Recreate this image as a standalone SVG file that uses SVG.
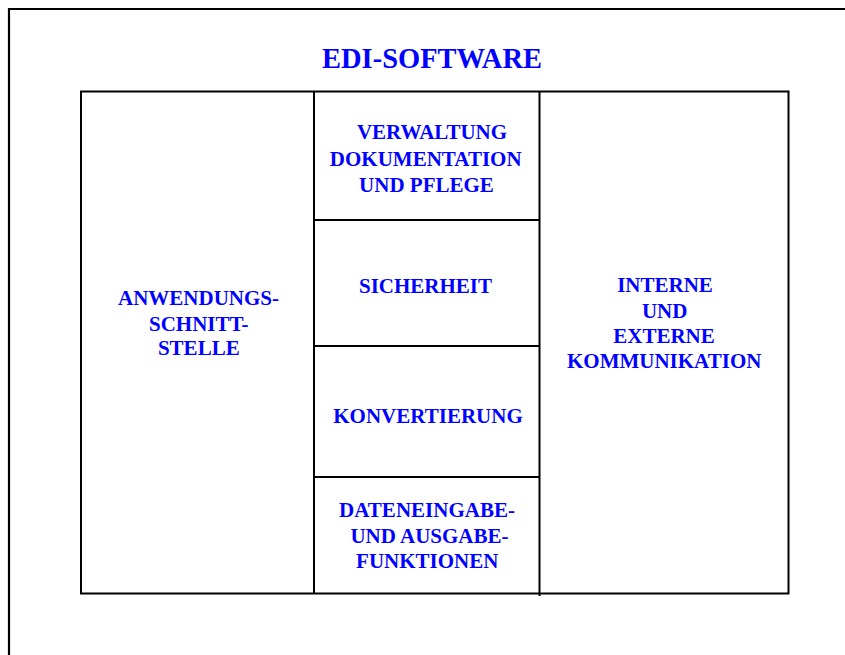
<svg xmlns="http://www.w3.org/2000/svg" width="845" height="655" viewBox="0 0 845 655">
<style>
.ln{stroke:#000;stroke-width:2;fill:none}
.fr{stroke:#000;stroke-width:2.2;fill:none}
.t{font-family:"Liberation Serif","Times New Roman",serif;font-weight:bold;font-size:21px;fill:#0000ff;text-anchor:middle}
.title{font-size:30px}
</style>
<rect x="0" y="0" width="845" height="655" fill="#fff"/>
<g id="frame">
<path class="fr" d="M9 656V9H846"/>
</g>
<g id="title">
<text class="t title" x="432" y="68" textLength="220" lengthAdjust="spacingAndGlyphs">EDI-SOFTWARE</text>
</g>
<g id="connectors">
<rect class="ln" x="81" y="91.5" width="707.5" height="502"/>
<line class="ln" x1="314" y1="91.5" x2="314" y2="593.5"/>
<line class="ln" x1="539.5" y1="91.5" x2="539.5" y2="596"/>
<line class="ln" x1="314" y1="220" x2="539.5" y2="220"/>
<line class="ln" x1="314" y1="346" x2="539.5" y2="346"/>
<line class="ln" x1="314" y1="477" x2="539.5" y2="477"/>
</g>
<g id="anwendung">
<text class="t" x="198.5" y="304.5">ANWENDUNGS-</text>
<text class="t" x="198.8" y="331">SCHNITT-</text>
<text class="t" x="198.8" y="355">STELLE</text>
</g>
<g id="verwaltung">
<text class="t" x="432" y="138.5">VERWALTUNG</text>
<text class="t" x="425.7" y="166">DOKUMENTATION</text>
<text class="t" x="426.5" y="191.7">UND PFLEGE</text>
</g>
<g id="sicherheit">
<text class="t" x="425.5" y="293.3">SICHERHEIT</text>
</g>
<g id="konvertierung">
<text class="t" x="428" y="423.3">KONVERTIERUNG</text>
</g>
<g id="dateneingabe">
<text class="t" x="427" y="516.7">DATENEINGABE-</text>
<text class="t" x="429.5" y="542.7">UND AUSGABE-</text>
<text class="t" x="427.3" y="568.3">FUNKTIONEN</text>
</g>
<g id="kommunikation">
<text class="t" x="665" y="291.7">INTERNE</text>
<text class="t" x="664.7" y="317.7">UND</text>
<text class="t" x="664" y="342.7">EXTERNE</text>
<text class="t" x="664.2" y="367.7">KOMMUNIKATION</text>
</g>
</svg>
